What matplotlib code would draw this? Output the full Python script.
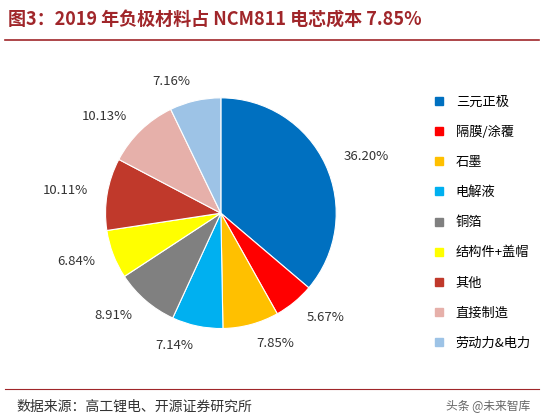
import matplotlib.pyplot as plt
from matplotlib.lines import Line2D

plt.rcParams['font.family'] = ['Noto Sans CJK SC', 'DejaVu Sans']

labels = ['三元正极', '隔膜/涂覆', '石墨', '电解液', '铜箔', '结构件+盖帽', '其他', '直接制造', '劳动力&电力']
values = [36.20, 5.67, 7.85, 7.14, 8.91, 6.84, 10.11, 10.13, 7.16]
colors = ['#0070C0', '#FF0000', '#FFC000', '#00B0F0', '#808080', '#FFFF00', '#C0392B', '#E6B0AA', '#9DC3E6']

fig = plt.figure(figsize=(5.44, 4.18), dpi=100)
ax = fig.add_axes([0.141, 0.145, 0.53, 0.69])
wedges, texts = ax.pie(values, colors=colors, startangle=90, counterclock=False,
                       labels=[f'{v:.2f}%' for v in values], labeldistance=1.17,
                       textprops={'fontsize': 9.5, 'color': '#333333'},
                       wedgeprops={'linewidth': 0.8, 'edgecolor': 'white'})
ax.set_aspect('equal')

handles = [Line2D([], [], marker='s', linestyle='None', color=c, markersize=6) for c in colors]
fig.legend(handles, labels, loc='upper left', bbox_to_anchor=(0.76, 0.8), frameon=False,
           fontsize=9.5, labelspacing=1.3, handletextpad=0.3)

fig.text(0.015, 0.955, '图3：2019 年负极材料占 NCM811 电芯成本 7.85%', fontsize=13,
         fontweight='bold', color='#A0262A', va='center')
fig.add_artist(Line2D([0.01, 0.99], [0.905, 0.905], color='#A0262A', linewidth=1.2))
fig.add_artist(Line2D([0.01, 0.99], [0.07, 0.07], color='#A0262A', linewidth=0.8))
fig.text(0.03, 0.028, '数据来源：高工锂电、开源证券研究所', fontsize=10, color='#333333', va='center')
fig.text(0.82, 0.028, '头条 @未来智库', fontsize=8.5, color='#666666', va='center')

fig.savefig('out.png', dpi=100)
